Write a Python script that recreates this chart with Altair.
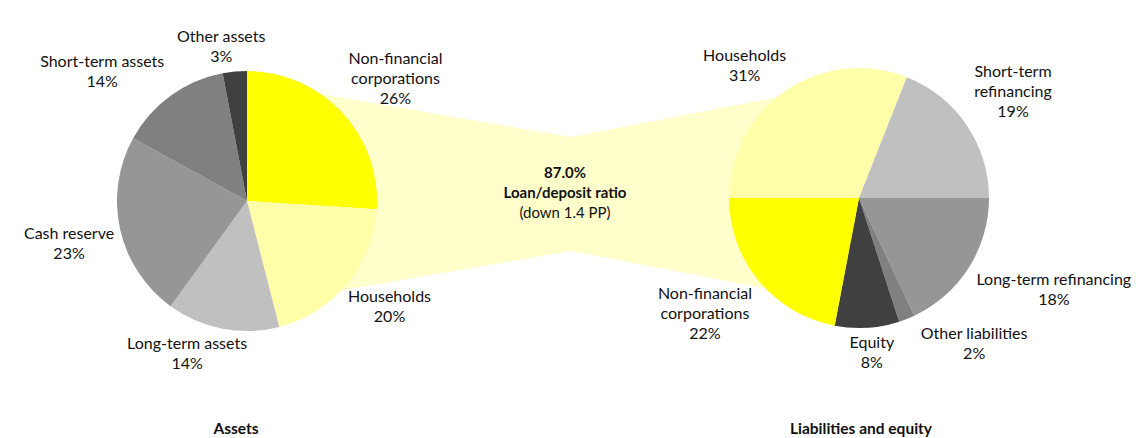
import math
import altair as alt
import pandas as pd

W, H = 1141, 438
FONT = "Lato"

# ---- data -------------------------------------------------------------
asset_cats = ["Non-financial corporations", "Households", "Long-term assets",
              "Cash reserve", "Short-term assets", "Other assets"]
asset_names = ["Non-financial\ncorporations", "Households", "Long-term assets",
               "Cash reserve", "Short-term assets", "Other assets"]
asset_vals = [26, 20, 14, 23, 14, 3]

liab_cats = ["Households", "Short-term refinancing", "Long-term refinancing",
             "Other liabilities", "Equity", "Non-financial corporations"]
liab_names = ["Households", "Short-term\nrefinancing", "Long-term refinancing",
              "Other liabilities", "Equity", "Non-financial\ncorporations"]
liab_vals = [31, 19, 18, 2, 8, 22]

center_bold = ["87.0%", "Loan/deposit ratio"]
center_note = "(down 1.4 PP)"
titles = ["Assets", "Liabilities and equity"]

# ---- style / layout ---------------------------------------------------
color_domain = ["Non-financial corporations", "Households", "Long-term assets",
                "Cash reserve", "Short-term assets", "Other assets",
                "Short-term refinancing", "Long-term refinancing",
                "Other liabilities", "Equity"]
color_range = ["#FFFF00", "#FFFFAA", "#C0C0C0", "#969696", "#808080", "#404040",
               "#C0C0C0", "#969696", "#808080", "#404040"]
color_scale = alt.Scale(domain=color_domain, range=color_range)

R = 130
LEFT = (247, 201, 0)      # cx, cy, start angle (deg, clockwise from 12 o'clock)
RIGHT = (859, 198, 270)
FS = 16
LINE_H = 20
CHAR_W = 7.7
PAD = 5
K = 3.0

BAND_Y = 194
BAND_HALF_END = 112.5
BAND_HALF_WAIST = 57
WAIST_X = 571

xs = alt.Scale(domain=[0, W], range=[0, W], nice=False, zero=False)
ys = alt.Scale(domain=[0, H], range=[0, H], nice=False, zero=False)


def clamp(v):
    return max(-1.0, min(1.0, v))


def pie(cats, names, vals, geom):
    cx, cy, start = geom
    total = sum(vals)
    labels, lx, ly = [], [], []
    cum = 0
    for n, v in zip(names, vals):
        mid = math.radians(start + (cum + v / 2) / total * 360)
        cum += v
        lines = n.split("\n") + [f"{v}%"]
        a = max(len(l) for l in lines) * CHAR_W / 2
        b = len(lines) * LINE_H / 2
        s, c = math.sin(mid), math.cos(mid)
        # nearest label corner sits just outside the rim, on the slice's mid-angle
        px = cx + (R + PAD) * s + a * clamp(K * s)
        py = cy - (R + PAD) * c - b * clamp(K * c)
        lx.append(px)
        ly.append(py - (len(lines) - 1) * LINE_H / 2)
        labels.append("\n".join(lines))
    df = pd.DataFrame({"cat": cats, "value": vals, "idx": list(range(len(cats))),
                       "label": labels, "lx": lx, "ly": ly})
    t0 = math.radians(start)
    tscale = alt.Scale(domain=[0, total], range=[t0, t0 + 2 * math.pi])
    base = alt.Chart(df)
    arcs = base.mark_arc(outerRadius=R, stroke=None).encode(
        theta=alt.Theta("value:Q", stack=True, scale=tscale),
        order=alt.Order("idx:Q"),
        color=alt.Color("cat:N", scale=color_scale, legend=None),
        x=alt.value(cx), y=alt.value(cy),
    )
    text = base.mark_text(font=FONT, fontSize=FS, lineHeight=LINE_H, lineBreak="\n",
                          align="center", baseline="middle", color="#111111").encode(
        x=alt.X("lx:Q", scale=xs, axis=None),
        y=alt.Y("ly:Q", scale=ys, axis=None),
        text="label:N",
    )
    return arcs, text


band_df = pd.DataFrame({
    "x": [LEFT[0], WAIST_X, RIGHT[0]],
    "top": [BAND_Y - BAND_HALF_END, BAND_Y - BAND_HALF_WAIST, BAND_Y - BAND_HALF_END],
    "bottom": [BAND_Y + BAND_HALF_END, BAND_Y + BAND_HALF_WAIST, BAND_Y + BAND_HALF_END],
})
band = alt.Chart(band_df).mark_area(color="#FFFFCC", opacity=1, interpolate="linear").encode(
    x=alt.X("x:Q", scale=xs, axis=None),
    y=alt.Y("top:Q", scale=ys, axis=None),
    y2="bottom:Q",
)

la, lt = pie(asset_cats, asset_names, asset_vals, LEFT)
ra, rt = pie(liab_cats, liab_names, liab_vals, RIGHT)

center_df = pd.DataFrame({"t": ["\n".join(center_bold)]})
center1 = alt.Chart(center_df).mark_text(font=FONT, fontSize=15, fontWeight="bold",
                                         lineHeight=20, lineBreak="\n", align="center",
                                         baseline="alphabetic", color="#111111").encode(
    text="t:N", x=alt.value(565), y=alt.value(178))
center2 = alt.Chart(pd.DataFrame({"t": [center_note]})).mark_text(
    font=FONT, fontSize=15, align="center", baseline="alphabetic", color="#111111").encode(
    text="t:N", x=alt.value(565), y=alt.value(218))

title_df = pd.DataFrame({"t": titles, "x": [236, 861], "y": [434, 434]})
title_txt = alt.Chart(title_df).mark_text(font=FONT, fontSize=15.5, fontWeight="bold",
                                          align="center", baseline="alphabetic",
                                          color="#111111").encode(
    text="t:N",
    x=alt.X("x:Q", scale=xs, axis=None),
    y=alt.Y("y:Q", scale=ys, axis=None),
)

chart = alt.layer(band, la, ra, lt, rt, center1, center2, title_txt).resolve_scale(
    theta="independent"
).properties(
    width=W, height=H, padding=0, autosize=alt.AutoSizeParams(type="none"),
    background="white"
).configure_view(strokeWidth=0)

chart.save("out.html", embed_options={"renderer": "svg", "actions": False})
